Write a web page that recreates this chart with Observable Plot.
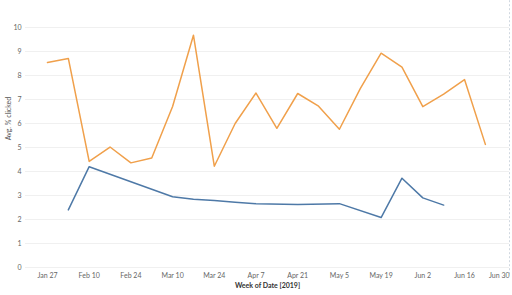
<!DOCTYPE html>
<html>
<head>
<meta charset="utf-8">
<script src="https://cdn.jsdelivr.net/npm/d3@7"></script>
<script src="https://cdn.jsdelivr.net/npm/@observablehq/plot@0.6"></script>
<style>
  html, body { margin: 0; padding: 0; background: #fff; }
  #chart { width: 512px; height: 295px; overflow: hidden; }
</style>
</head>
<body>
<div id="chart"></div>
<script>
// Series A (orange) — weekly dates and average % clicked
const orangeWeeks = ["2019-01-27","2019-02-03","2019-02-10","2019-02-17","2019-02-24","2019-03-03","2019-03-10","2019-03-17","2019-03-24","2019-03-31","2019-04-07","2019-04-14","2019-04-21","2019-04-28","2019-05-05","2019-05-12","2019-05-19","2019-05-26","2019-06-02","2019-06-09","2019-06-16","2019-06-23"];
const orangeValues = [8.54, 8.71, 4.42, 5.02, 4.36, 4.56, 6.71, 9.68, 4.22, 6.0, 7.27, 5.8, 7.25, 6.72, 5.76, 7.45, 8.93, 8.35, 6.7, 7.22, 7.83, 5.13];

// Series B (blue)
const blueWeeks = ["2019-02-03","2019-02-10","2019-03-10","2019-03-17","2019-03-24","2019-03-31","2019-04-07","2019-04-21","2019-05-05","2019-05-19","2019-05-26","2019-06-02","2019-06-09"];
const blueValues = [2.4, 4.2, 2.95, 2.84, 2.79, 2.72, 2.66, 2.62, 2.66, 2.08, 3.72, 2.9, 2.6];

const yTicks = [0,1,2,3,4,5,6,7,8,9,10];
const xTickLabels = ["2019-01-27","2019-02-10","2019-02-24","2019-03-10","2019-03-24","2019-04-07","2019-04-21","2019-05-05","2019-05-19","2019-06-02","2019-06-16","2019-06-30"];

const orangeData = orangeWeeks.map((d, i) => ({date: new Date(d), value: orangeValues[i]}));
const blueData = blueWeeks.map((d, i) => ({date: new Date(d), value: blueValues[i]}));
const xTicks = xTickLabels.map(d => new Date(d));
const fmt = d3.utcFormat("%b %-d");

const day = 864e5;
const x0 = new Date(+new Date("2019-01-27") - 7.38 * day);
const x1 = new Date(+new Date("2019-01-27") + 155.1 * day);

const chart = Plot.plot({
  width: 512,
  height: 295,
  marginLeft: 25,
  marginRight: 3,
  marginTop: 27,
  marginBottom: 28,
  style: {fontFamily: "Lato, 'Open Sans', sans-serif", fontSize: "7px", color: "#666", background: "#fff", overflow: "visible"},
  x: {type: "utc", domain: [x0, x1]},
  y: {domain: [0, 10]},
  marks: [
    Plot.gridY(yTicks, {stroke: "#f0f0f0", strokeOpacity: 1, strokeWidth: 1}),
    Plot.ruleX([x1], {y1: -0.3, y2: 11.2, stroke: "#d0d8e0", strokeDasharray: "2,2", strokeWidth: 1, clip: false}),
    Plot.axisY(yTicks, {tickSize: 0, tickPadding: 4, label: null, fill: "#666", fontSize: 7}),
    Plot.axisX(xTicks.slice(0, -1), {tickSize: 0, tickPadding: 6, tickFormat: fmt, label: null, fill: "#666", fontSize: 7}),
    Plot.axisX(xTicks.slice(-1), {tickSize: 0, tickPadding: 6, tickFormat: fmt, label: null, fill: "#666", fontSize: 7, dx: -7}),
    Plot.text(["Avg. % clicked"], {frameAnchor: "left", dx: -17, rotate: -90, fill: "#555", fontSize: 7, y: 5.3, x: x0}),
    Plot.text(["Week of Date [2019]"], {frameAnchor: "bottom", dy: 20, fill: "#333", fontSize: 7, fontWeight: "bold"}),
    Plot.line(orangeData, {x: "date", y: "value", stroke: "#f0a04b", strokeWidth: 1.5}),
    Plot.line(blueData, {x: "date", y: "value", stroke: "#4e79a7", strokeWidth: 1.5})
  ]
});
document.getElementById("chart").appendChild(chart);
</script>
</body>
</html>
